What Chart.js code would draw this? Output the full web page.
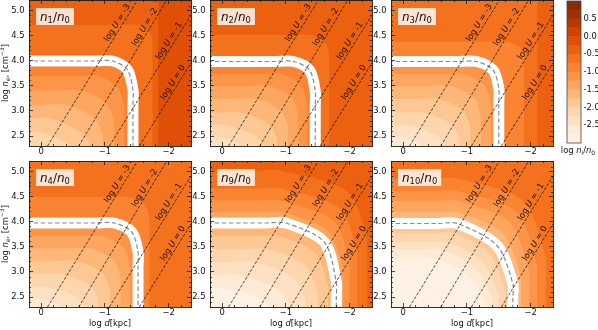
<!DOCTYPE html>
<html>
<head>
<meta charset="utf-8">
<script src="https://cdn.jsdelivr.net/npm/chart.js@4.4.1/dist/chart.umd.min.js"></script>
<style>
  body { margin: 0; background: #fff; }
  #fig { position: relative; width: 598px; height: 330px; overflow: hidden; background: #fff; }
  #fig canvas { position: absolute; }
</style>
</head>
<body>
<div id="fig"></div>
<script>
// axis ranges and ticks
const xMin = -2.35, xMax = 0.19;
const yMin = 2.3, yMax = 5.22;
const xMajor = [0, -1, -2];
const xMinor = [-0.2, -0.4, -0.6, -0.8, -1.2, -1.4, -1.6, -1.8, -2.2];
const yMajor = [2.5, 3.0, 3.5, 4.0, 4.5, 5.0];
const yMinor = [2.4, 2.6, 2.7, 2.8, 2.9, 3.1, 3.2, 3.3, 3.4, 3.6, 3.7, 3.8, 3.9,
                4.1, 4.2, 4.3, 4.4, 4.6, 4.7, 4.8, 4.9, 5.1, 5.2];

// ionisation parameter lines (end points)
const logU = [-3, -2, -1, 0];
const logUx0 = [-0.10, -0.59, -1.07, -1.54];
const logUy0 = [2.3, 2.3, 2.3, 2.3];
const logUx1 = [-1.51, -1.97, -2.35, -2.35];
const logUy1 = [5.22, 5.22, 4.92, 3.96];
const logULabelY = [4.71, 4.63, 4.35, 3.52];

// colour bar
const cbarLevels = [-3, -2.75, -2.5, -2.25, -2, -1.75, -1.5, -1.25, -1, -0.75, -0.5, -0.25, 0, 0.25, 0.5, 0.75, 1];
const cbarTicks = [-2.5, -2, -1.5, -1, -0.5, 0, 0.5];

// panels
const panelSub = ['1', '2', '3', '4', '9', '10'];
const panelTopBand = [-0.25, -0.5, -0.5, -0.75, -0.5, -0.75];

// contour rows: [level, y at left edge, x where bend starts, knee x, knee y, x at bottom, y where bend ends]
const n1Contours = [
  [-0.25, 5.6, -1.55, -1.78, 5.45, -1.84, 5.25],
  [-0.5, 4.72, -1.5, -1.68, 4.62, -1.75, 4.4],
  [-0.75, 4.0, -1.12, -1.35, 3.83, -1.44, 3.42],
  [-1.0, 3.70, -0.9, -1.2, 3.47, -1.31, 3.05],
  [-1.25, 3.41, -0.65, -1.02, 3.15, -1.15, 2.75],
  [-1.5, 3.12, -0.4, -0.82, 2.87, -0.97, 2.5],
  [-1.75, 2.85, -0.15, -0.6, 2.6, -0.76, 2.35],
  [-2.0, 2.59, 0.1, -0.32, 2.42, -0.5, 2.2]
];
const n1White = [4.0, -1.12, -1.35, 3.83, -1.44, 3.42];

const n2Contours = [
  [-0.5, 4.52, -1.4, -1.6, 4.4, -1.68, 4.1],
  [-0.75, 3.99, -1.12, -1.37, 3.82, -1.46, 3.4],
  [-1.0, 3.74, -0.95, -1.24, 3.5, -1.34, 3.1],
  [-1.25, 3.50, -0.75, -1.1, 3.25, -1.2, 2.85],
  [-1.5, 3.24, -0.55, -0.92, 3.0, -1.04, 2.65],
  [-1.75, 2.97, -0.3, -0.72, 2.75, -0.86, 2.45],
  [-2.0, 2.72, -0.05, -0.5, 2.52, -0.64, 2.3],
  [-2.25, 2.49, 0.1, -0.2, 2.38, -0.34, 2.15]
];
const n2White = [3.99, -1.12, -1.37, 3.82, -1.46, 3.4];

const n3Contours = [
  [-0.5, 5.7, -1.8, -2.05, 5.5, -2.11, 5.3],
  [-0.75, 4.39, -1.6, -1.82, 4.28, -1.90, 4.0],
  [-1.0, 3.99, -1.15, -1.41, 3.82, -1.50, 3.45],
  [-1.25, 3.74, -0.95, -1.28, 3.5, -1.38, 3.1],
  [-1.5, 3.50, -0.75, -1.12, 3.25, -1.22, 2.85],
  [-1.75, 3.24, -0.55, -0.94, 3.0, -1.06, 2.65],
  [-2.0, 2.97, -0.3, -0.74, 2.75, -0.88, 2.45],
  [-2.25, 2.72, -0.05, -0.52, 2.52, -0.66, 2.3],
  [-2.5, 2.49, 0.1, -0.22, 2.38, -0.36, 2.15]
];
const n3White = [3.99, -1.15, -1.41, 3.82, -1.50, 3.45];

const n4Contours = [
  [-0.75, 4.50, -1.35, -1.62, 4.36, -1.70, 4.05],
  [-1.0, 3.98, -1.15, -1.42, 3.8, -1.52, 3.4],
  [-1.25, 3.72, -0.97, -1.3, 3.48, -1.40, 3.05],
  [-1.5, 3.47, -0.78, -1.14, 3.22, -1.25, 2.85],
  [-1.75, 3.22, -0.57, -0.96, 2.98, -1.08, 2.62],
  [-2.0, 2.96, -0.33, -0.76, 2.73, -0.9, 2.45],
  [-2.25, 2.70, -0.08, -0.53, 2.52, -0.68, 2.3],
  [-2.5, 2.47, 0.1, -0.24, 2.37, -0.38, 2.15]
];
const n4White = [3.98, -1.15, -1.42, 3.8, -1.52, 3.4];

const n9Contours = [
  [-0.5, 5.03, -0.9, -1.95, 4.62, -2.28, 3.7],
  [-0.75, 4.67, -0.9, -1.83, 4.28, -2.12, 3.4],
  [-1.0, 4.43, -0.9, -1.74, 4.03, -2.0, 3.2],
  [-1.25, 4.2, -0.95, -1.67, 3.8, -1.9, 3.0],
  [-1.5, 3.98, -1.0, -1.6, 3.6, -1.79, 2.8],
  [-1.75, 3.72, -0.9, -1.47, 3.37, -1.66, 2.7],
  [-2.0, 3.46, -0.7, -1.3, 3.14, -1.5, 2.55],
  [-2.25, 3.2, -0.5, -1.1, 2.9, -1.32, 2.4],
  [-2.5, 2.94, -0.25, -0.87, 2.66, -1.1, 2.25],
  [-2.75, 2.68, 0.0, -0.6, 2.47, -0.84, 2.1]
];
const n9White = [3.98, -1.0, -1.6, 3.6, -1.79, 2.8];

const n10Contours = [
  [-0.75, 4.87, -0.85, -1.88, 4.42, -2.24, 3.3],
  [-1.0, 4.62, -0.85, -1.78, 4.2, -2.1, 3.15],
  [-1.25, 4.42, -0.85, -1.66, 4.0, -1.98, 3.0],
  [-1.5, 4.2, -0.85, -1.56, 3.78, -1.85, 2.9],
  [-1.75, 3.97, -0.85, -1.47, 3.53, -1.72, 2.77],
  [-2.0, 3.78, -0.8, -1.34, 3.38, -1.6, 2.65],
  [-2.25, 3.6, -0.7, -1.22, 3.22, -1.5, 2.55],
  [-2.5, 3.45, -0.6, -1.12, 3.08, -1.4, 2.45],
  [-2.75, 3.27, -0.5, -1.02, 2.93, -1.3, 2.35]
];
const n10White = [3.97, -0.85, -1.47, 3.53, -1.72, 2.77];

const allContours = [n1Contours, n2Contours, n3Contours, n4Contours, n9Contours, n10Contours];
const allWhite = [n1White, n2White, n3White, n4White, n9White, n10White];

// layout of the frames on the page
const panelLeft = [29, 210, 391, 29, 210, 391];
const panelTop = [0, 0, 0, 161, 161, 161];
const PW = 162, PH = 146;

const FONT = '"DejaVu Sans"';
Chart.defaults.font.family = FONT;

// matplotlib "Oranges"
const cmapStops = [[255,245,235],[254,230,206],[253,208,162],[253,174,107],[253,141,60],
                   [241,105,19],[217,72,1],[166,54,3],[127,39,4]];
function cmap(t) {
  t = Math.min(1, Math.max(0, t));
  const s = t * (cmapStops.length - 1);
  const i = Math.min(Math.floor(s), cmapStops.length - 2);
  const f = s - i, a = cmapStops[i], b = cmapStops[i + 1];
  return 'rgb(' + [0, 1, 2].map(k => Math.round(a[k] + (b[k] - a[k]) * f)).join(',') + ')';
}
function bandColor(lo) {
  const mid = lo + 0.125;
  return cmap((mid - cbarLevels[0]) / (cbarLevels[cbarLevels.length - 1] - cbarLevels[0]));
}

function lCurve(c) {
  const [yE, x1, kx, ky, xE, y1] = c;
  const pts = [{x: 0.45, y: yE}];
  if (x1 + 0.3 < 0.4) pts.push({x: x1 + 0.3, y: yE});
  pts.push({x: x1, y: yE}, {x: kx, y: ky}, {x: xE, y: y1});
  if (y1 - 0.3 > 2.0) pts.push({x: xE, y: y1 - 0.3});
  pts.push({x: xE, y: 1.9});
  return pts;
}

function fontOf(p) { return (p.it ? 'italic ' : '') + (p.s || 8.4) + 'px ' + FONT; }
function richWidth(ctx, parts) {
  let w = 0;
  for (const p of parts) { ctx.font = fontOf(p); w += ctx.measureText(p.t).width; }
  return w;
}
function drawRich(ctx, parts, x, y) {
  let cx = x;
  for (const p of parts) {
    ctx.font = fontOf(p);
    ctx.fillText(p.t, cx, y + (p.dy || 0));
    cx += ctx.measureText(p.t).width;
  }
}

function tickAxis(position, values, len, size, weight, labels, padding) {
  const horizontal = position === 'top' || position === 'bottom';
  return {
    type: 'linear',
    position: position,
    min: horizontal ? xMin : yMin,
    max: horizontal ? xMax : yMax,
    reverse: horizontal,
    weight: weight,
    afterBuildTicks: s => { s.ticks = values.map(v => ({value: v})); },
    afterFit: s => {
      if (horizontal) s.height = size; else s.width = size;
      s.paddingTop = 0; s.paddingBottom = 0; s.paddingLeft = 0; s.paddingRight = 0;
    },
    grid: {drawOnChartArea: false, drawTicks: true, tickLength: -len, color: '#1a1a1a', lineWidth: 0.8, z: 1},
    border: {display: weight > 0, color: '#1a1a1a', width: 0.9, z: 1},
    ticks: labels
      ? {display: true, autoSkip: false, maxRotation: 0, padding: padding, color: '#111',
         font: {size: 8.4}, callback: labels}
      : {display: false}
  };
}

function panelDatasets(rows, white) {
  const ds = [];
  logU.forEach((u, k) => ds.push({
    data: [{x: logUx0[k], y: logUy0[k]}, {x: logUx1[k], y: logUy1[k]}],
    borderColor: '#000', borderWidth: 0.7, borderDash: [3, 1.6], tension: 0, fill: false, clip: 0
  }));
  ds.push({data: lCurve(white), borderColor: '#8a8a8a', borderWidth: 1.2, borderDash: [4.5, 2.6], fill: false, clip: 0});
  ds.push({data: lCurve(white), borderColor: '#ffffff', borderWidth: 11, fill: false, clip: 0});
  rows.slice().sort((a, b) => a[0] - b[0]).forEach(r => ds.push({
    data: lCurve(r.slice(1)), backgroundColor: bandColor(r[0] - 0.25),
    borderWidth: 0, fill: 'start', clip: 0
  }));
  return ds;
}

function decorPlugin(i) {
  return {
    id: 'decor' + i,
    beforeDatasetsDraw(chart) {
      const a = chart.chartArea, ctx = chart.ctx;
      ctx.save();
      ctx.fillStyle = bandColor(panelTopBand[i]);
      ctx.fillRect(a.left, a.top, a.right - a.left, a.bottom - a.top);
      ctx.restore();
    },
    afterDatasetsDraw(chart) {
      const ctx = chart.ctx, a = chart.chartArea, xs = chart.scales.x, ys = chart.scales.y;
      ctx.save();
      ctx.beginPath();
      ctx.rect(a.left, a.top, a.right - a.left, a.bottom - a.top);
      ctx.clip();
      ctx.fillStyle = '#111';
      logU.forEach((u, k) => {
        const p0x = xs.getPixelForValue(logUx0[k]), p0y = ys.getPixelForValue(logUy0[k]);
        const p1x = xs.getPixelForValue(logUx1[k]), p1y = ys.getPixelForValue(logUy1[k]);
        const ang = Math.atan2(p1y - p0y, p1x - p0x);
        const f = (logULabelY[k] - logUy0[k]) / (logUy1[k] - logUy0[k]);
        const ax = p0x + f * (p1x - p0x), ay = p0y + f * (p1y - p0y);
        const cx = ax + 5.8 * Math.sin(ang), cy = ay - 5.8 * Math.cos(ang);
        const parts = [{t: 'log '}, {t: 'U', it: true}, {t: ' = ' + (u < 0 ? '-' + Math.abs(u) : '0')}];
        const w = richWidth(ctx, parts);
        ctx.save();
        ctx.translate(cx, cy);
        ctx.rotate(ang);
        drawRich(ctx, parts, -w / 2, 3);
        ctx.restore();
      });
      const parts = [{t: 'n', it: true, s: 12}, {t: panelSub[i], s: 8.4, dy: 2.6}, {t: '/', s: 12},
                     {t: 'n', it: true, s: 12}, {t: '0', s: 8.4, dy: 2.6}];
      const w = richWidth(ctx, parts);
      const bx = a.left + 7, by = a.top + 8;
      ctx.fillStyle = 'rgba(255,255,255,0.8)';
      ctx.fillRect(bx, by, w + 8, 17);
      ctx.fillStyle = '#111';
      drawRich(ctx, parts, bx + 4, by + 12.5);
      ctx.restore();
    },
    afterDraw(chart) {
      const ctx = chart.ctx, a = chart.chartArea;
      ctx.save();
      ctx.fillStyle = '#111';
      if (i % 3 === 0) {
        const parts = [{t: 'log '}, {t: 'n', it: true}, {t: 'e', it: true, s: 6, dy: 2}, {t: ', [cm'},
                       {t: '\u22123', s: 6, dy: -3.6}, {t: ']'}];
        const w = richWidth(ctx, parts);
        ctx.translate(a.left - 24.5, (a.top + a.bottom) / 2);
        ctx.rotate(-Math.PI / 2);
        drawRich(ctx, parts, -w / 2, 3);
      }
      ctx.restore();
      if (i >= 3) {
        ctx.save();
        ctx.fillStyle = '#111';
        const parts = [{t: 'log '}, {t: 'd', it: true}, {t: '[kpc]'}];
        const w = richWidth(ctx, parts);
        drawRich(ctx, parts, (a.left + a.right) / 2 - w / 2, a.bottom + 19);
        ctx.restore();
      }
    }
  };
}

const fig = document.getElementById('fig');
function addCanvas(left, top, w, h) {
  const c = document.createElement('canvas');
  c.width = w; c.height = h;
  c.style.left = left + 'px'; c.style.top = top + 'px';
  c.style.width = w + 'px'; c.style.height = h + 'px';
  fig.appendChild(c);
  return c;
}

const fmtX = v => (v === 0 ? '0' : '\u2212' + Math.abs(v));
const fmtY = v => v.toFixed(1);

for (let i = 0; i < 6; i++) {
  const cv = addCanvas(panelLeft[i] - 30, panelTop[i] - 4, 30 + PW + 4, 4 + PH + 26);
  new Chart(cv, {
    type: 'line',
    data: {datasets: panelDatasets(allContours[i], allWhite[i])},
    options: {
      responsive: false, animation: false, devicePixelRatio: 1, events: [],
      layout: {padding: 0},
      elements: {point: {radius: 0}, line: {tension: 0.3, capBezierPoints: false}},
      plugins: {legend: {display: false}, tooltip: {enabled: false}},
      scales: {
        x: tickAxis('bottom', xMajor, 4, 26, 1, fmtX, 5),
        xm: tickAxis('bottom', xMinor, 2, 0, 0),
        xt: tickAxis('top', xMajor, 4, 4, 1),
        xtm: tickAxis('top', xMinor, 2, 0, 0),
        y: tickAxis('left', yMajor, 4, 30, 1, fmtY, 8.5),
        ym: tickAxis('left', yMinor, 2, 0, 0),
        yr: tickAxis('right', yMajor, 4, 4, 1),
        yrm: tickAxis('right', yMinor, 2, 0, 0)
      }
    },
    plugins: [decorPlugin(i)]
  });
}

// colour bar
const cb = addCanvas(540, 0, 58, 160);
new Chart(cb, {
  type: 'bar',
  data: {
    labels: ['c'],
    datasets: cbarLevels.slice(0, -1).map((lo, k) => ({
      data: [[lo, cbarLevels[k + 1]]], backgroundColor: bandColor(lo), borderWidth: 0,
      grouped: false, barPercentage: 1, categoryPercentage: 1
    }))
  },
  options: {
    responsive: false, animation: false, devicePixelRatio: 1, events: [],
    layout: {padding: {left: 27, top: 1, bottom: 17, right: 0}},
    plugins: {legend: {display: false}, tooltip: {enabled: false}},
    scales: {
      x: {display: false},
      y: {
        type: 'linear', position: 'right', min: cbarLevels[0], max: cbarLevels[cbarLevels.length - 1],
        afterBuildTicks: s => { s.ticks = cbarTicks.map(v => ({value: v})); },
        afterFit: s => { s.width = 17; s.paddingTop = 0; s.paddingBottom = 0; },
        grid: {display: false, drawTicks: false},
        border: {display: false},
        ticks: {padding: 2.5, color: '#111', font: {size: 8.4}, callback: v => v.toFixed(1)}
      }
    }
  },
  plugins: [{
    id: 'cbarDecor',
    afterDatasetsDraw(chart) {
      const ctx = chart.ctx, a = chart.chartArea;
      ctx.save();
      ctx.strokeStyle = '#444';
      ctx.lineWidth = 0.8;
      ctx.strokeRect(a.left, a.top, a.right - a.left, a.bottom - a.top);
      ctx.fillStyle = '#111';
      const parts = [{t: 'log '}, {t: 'n', it: true}, {t: 'i', it: true, s: 6, dy: 2}, {t: '/'},
                     {t: 'n', it: true}, {t: '0', s: 6, dy: 2}];
      const w = richWidth(ctx, parts);
      drawRich(ctx, parts, 38 - w / 2, 153);
      ctx.restore();
    }
  }]
});
</script>
</body>
</html>
